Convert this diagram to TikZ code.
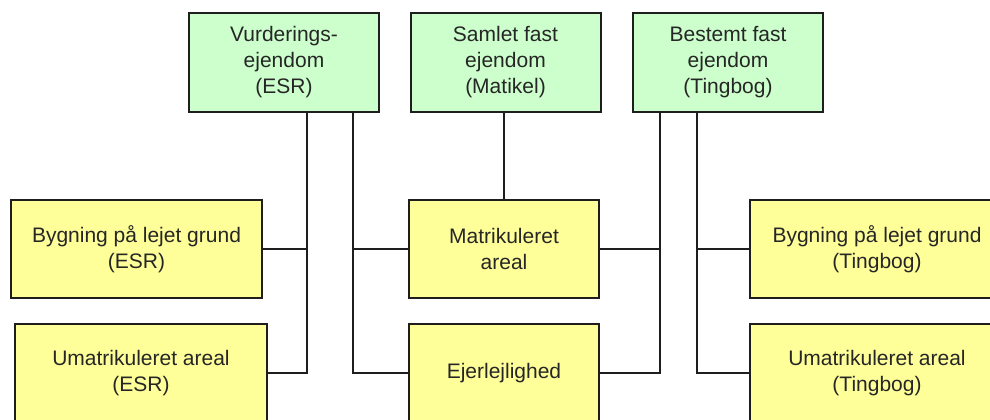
\documentclass[tikz,border=0pt]{standalone}
\usepackage{fontspec}
\setmainfont{Liberation Sans}
\usetikzlibrary{positioning}
\definecolor{regGreen}{HTML}{CCFFCC}
\definecolor{regYellow}{HTML}{FFFF99}
\definecolor{edgeGray}{HTML}{1E1E1E}

\begin{document}
\begin{tikzpicture}[x=0.5pt, y=-0.5pt, font=\fontsize{10.5}{13}\selectfont,
    every node/.style={align=center, inner sep=0pt, text=black!85},
    regbox/.style={draw=edgeGray, line width=1pt, fill=regGreen, minimum width=95pt, minimum height=49.5pt},
    unitbox/.style={draw=edgeGray, line width=1pt, fill=regYellow, minimum height=49pt},
    link/.style={draw=edgeGray, line width=0.8pt}]
    \clip ({0},{0}) rectangle ({990},{419});

    % registre
    \node[regbox] (esr) at ({284},{62.5}) {Vurderings-\\ejendom\\(ESR)};
    \node[regbox] (matr) at ({505.5},{62.5}) {Samlet fast\\ejendom\\(Matikel)};
    \node[regbox] (ting) at ({728},{62.5}) {Bestemt fast\\ejendom\\(Tingbog)};

    % enheder
    \node[unitbox, minimum width=125.5pt] (bygEsr) at ({136.5},{249}) {Bygning på lejet grund\\(ESR)};
    \node[unitbox, minimum width=126pt] (umEsr) at ({141},{373}) {Umatrikuleret areal\\(ESR)};
    \node[unitbox, minimum width=95pt] (areal) at ({504},{249}) {Matrikuleret\\areal};
    \node[unitbox, minimum width=95pt] (ejer) at ({504},{373}) {Ejerlejlighed};
    \node[unitbox, minimum width=127pt] (bygTing) at ({877},{249}) {Bygning på lejet grund\\(Tingbog)};
    \node[unitbox, minimum width=127pt] (umTing) at ({877},{373}) {Umatrikuleret areal\\(Tingbog)};

    \coordinate (esrA) at ({307},{112});
    \coordinate (esrB) at ({353},{112});
    \coordinate (tingA) at ({660},{112});
    \coordinate (tingB) at ({697},{112});

    \draw[link] (esrA) |- (bygEsr.east);
    \draw[link] (esrA) |- (umEsr.east);
    \draw[link] (esrB) |- (areal.west);
    \draw[link] (esrB) |- (ejer.west);
    \draw[link] (matr.south -| areal.north) -- (areal.north);
    \draw[link] (tingA) |- (areal.east);
    \draw[link] (tingA) |- (ejer.east);
    \draw[link] (tingB) |- (bygTing.west);
    \draw[link] (tingB) |- (umTing.west);
\end{tikzpicture}
\end{document}
